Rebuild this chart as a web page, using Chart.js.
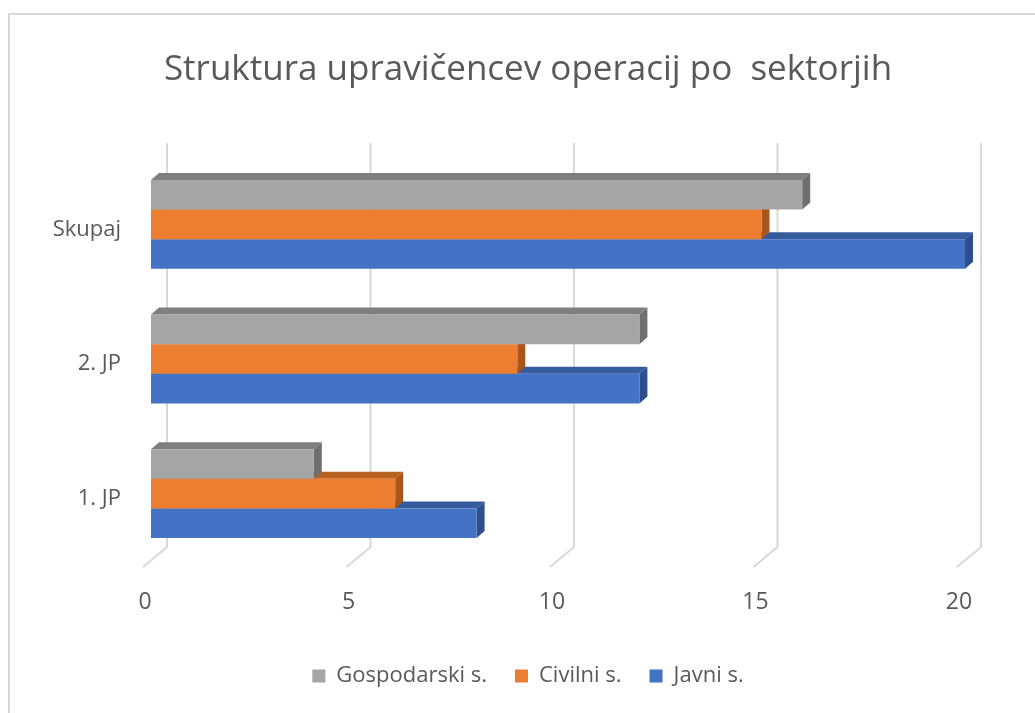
<!DOCTYPE html>
<html>
<head>
<meta charset="utf-8">
<script src="https://cdn.jsdelivr.net/npm/chart.js@4.4.1/dist/chart.umd.min.js"></script>
<style>
  html, body { margin: 0; padding: 0; background: #fff; }
  #wrap { width: 1035px; height: 713px; }
</style>
</head>
<body>
<div id="wrap"><canvas id="chart" width="1035" height="713"></canvas></div>
<script>
// data
const categories = ['Skupaj', '2. JP', '1. JP'];
const gospodarski = [16, 12, 4];
const civilni = [15, 9, 6];
const javni = [20, 12, 8];
const xTicks = [0, 5, 10, 15, 20];

const FONT = "'Open Sans', 'DejaVu Sans', sans-serif";
const TXT = '#595959';

// front / top / side shades for the fake 3D look
const shades = [
    { front: '#a5a5a5', top: '#7f7f7f', side: '#6f6f6f' },
    { front: '#ed7d31', top: '#b8621f', side: '#a9561c' },
    { front: '#4472c4', top: '#345c9e', side: '#2e4f8c' }
];
const DX = 8, DY = 7;

// frame around the whole chart (only top/left edges fall inside the picture)
const framePlugin = {
    id: 'frame',
    afterLayout(chart) {
        // let the category labels spill into the left padding without being clipped
        chart.scales.y.left = 0;
    },
    beforeDraw(chart) {
        const c = chart.ctx;
        c.save();
        c.fillStyle = '#fff';
        c.fillRect(0, 0, chart.width, chart.height);
        c.strokeStyle = '#d9d9d9';
        c.lineWidth = 2;
        c.strokeRect(9, 14, chart.width + 40, chart.height + 40);
        c.restore();
    }
};

// back-wall gridlines with the slanted floor foot
const wallGrid = {
    id: 'wallGrid',
    beforeDatasetsDraw(chart) {
        const c = chart.ctx, xs = chart.scales.x, a = chart.chartArea;
        c.save();
        c.strokeStyle = '#d9d9d9';
        c.lineWidth = 2;
        xs.ticks.forEach(t => {
            const x = xs.getPixelForValue(t.value);
            c.beginPath();
            c.moveTo(x + 16, a.top - 14);
            c.lineTo(x + 16, a.bottom - 14);
            c.lineTo(x - 8, a.bottom + 6);
            c.stroke();
        });
        c.restore();
    }
};

// top and side faces, painted just before each dataset's front faces
const bar3d = {
    id: 'bar3d',
    beforeDatasetDraw(chart, args) {
        const c = chart.ctx;
        const sh = shades[args.index];
        c.save();
        args.meta.data.forEach(bar => {
            const p = bar.getProps(['x', 'y', 'base', 'height'], true);
            const top = p.y - p.height / 2, bottom = p.y + p.height / 2;
            const left = Math.min(p.base, p.x), right = Math.max(p.base, p.x);
            c.fillStyle = sh.top;
            c.beginPath();
            c.moveTo(left, top);
            c.lineTo(left + DX, top - DY);
            c.lineTo(right + DX, top - DY);
            c.lineTo(right, top);
            c.closePath();
            c.fill();
            c.fillStyle = sh.side;
            c.beginPath();
            c.moveTo(right, top);
            c.lineTo(right + DX, top - DY);
            c.lineTo(right + DX, bottom - DY);
            c.lineTo(right, bottom);
            c.closePath();
            c.fill();
        });
        c.restore();
    }
};

new Chart(document.getElementById('chart'), {
    type: 'bar',
    data: {
        labels: categories,
        datasets: [
            { label: 'Gospodarski s.', data: gospodarski, backgroundColor: shades[0].front },
            { label: 'Civilni s.', data: civilni, backgroundColor: shades[1].front },
            { label: 'Javni s.', data: javni, backgroundColor: shades[2].front }
        ]
    },
    options: {
        indexAxis: 'y',
        responsive: false,
        animation: false,
        categoryPercentage: 0.66,
        barPercentage: 1.0,
        borderWidth: 0,
        layout: { padding: { left: 91, right: 70, top: 0, bottom: 16 } },
        scales: {
            x: {
                min: 0, max: 20,
                afterBuildTicks: s => { s.ticks = xTicks.map(v => ({ value: v })); },
                afterFit: s => { s.height = 76; },
                grid: { display: false, drawTicks: false },
                border: { display: false },
                ticks: { color: TXT, font: { family: FONT, size: 23 }, padding: 28, labelOffset: -6 }
            },
            y: {
                afterFit: s => { s.width = 60; },
                grid: { display: false, drawTicks: false },
                border: { display: false },
                ticks: { color: TXT, font: { family: FONT, size: 22 }, padding: 30, labelOffset: 5 }
            }
        },
        plugins: {
            title: {
                display: true,
                text: 'Struktura upravičencev operacij po  sektorjih',
                color: TXT,
                font: { family: FONT, size: 35, weight: 'normal', lineHeight: 1.2 },
                padding: { top: 49, bottom: 66 }
            },
            legend: {
                position: 'bottom',
                labels: {
                    color: TXT,
                    font: { family: FONT, size: 22 },
                    boxWidth: 13, boxHeight: 13,
                    padding: 28
                }
            },
            tooltip: { enabled: false }
        }
    },
    plugins: [framePlugin, wallGrid, bar3d]
});
</script>
</body>
</html>
